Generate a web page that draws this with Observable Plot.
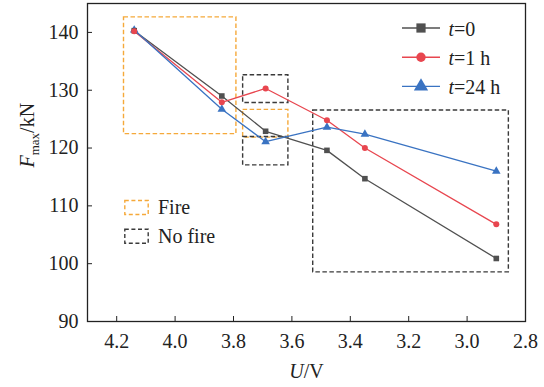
<!DOCTYPE html>
<html>
<head>
<meta charset="utf-8">
<script src="https://cdn.jsdelivr.net/npm/d3@7"></script>
<script src="https://cdn.jsdelivr.net/npm/@observablehq/plot@0.6"></script>
<style>
  body { margin: 0; background: #fff; }
  #chart { width: 544px; height: 387px; }
  #chart svg text { font-family: "Liberation Serif", "Times New Roman", serif; }
</style>
</head>
<body>
<div id="chart"></div>
<script>
// Cell voltage U (V) at each test, and maximum force F_max (kN) after resting time t
const voltage = [4.14, 3.84, 3.69, 3.48, 3.35, 2.90];
const forceT0 = [140.3, 129.0, 122.9, 119.6, 114.7, 100.9];
const forceT1h = [140.2, 127.9, 130.3, 124.8, 120.0, 106.8];
const forceT24h = [140.4, 126.7, 121.1, 123.6, 122.4, 116.0];

const seriesNames = ["t=0", "t=1 h", "t=24 h"];
const seriesColors = ["#505050", "#e8464f", "#3a73c2"];
const seriesSymbols = ["square", "circle", "triangle"];
const seriesRadius = [5.2, 4.7, 5.3];

// Dashed regions: fire / no fire outcome groups
const regionKind = ["Fire", "No fire", "Fire", "No fire", "No fire"];
const regionU1 = [4.175, 3.767, 3.767, 3.767, 3.527];
const regionU2 = [3.790, 3.612, 3.612, 3.612, 2.857];
const regionF1 = [122.4, 127.8, 121.8, 117.0, 98.5];
const regionF2 = [142.6, 132.6, 126.6, 121.9, 126.5];
const regionNames = ["Fire", "No fire"];
const regionColors = ["#f5a93a", "#3a3a3a"];

const xTicks = [4.2, 4.0, 3.8, 3.6, 3.4, 3.2, 3.0, 2.8];
const yTicks = [90, 100, 110, 120, 130, 140];

const seriesValues = [forceT0, forceT1h, forceT24h];
const rows = seriesNames.flatMap((name, i) =>
  voltage.map((u, j) => ({u, f: seriesValues[i][j], series: name}))
);
const regions = regionKind.map((kind, i) => ({
  kind, u1: regionU1[i], u2: regionU2[i], f1: regionF1[i], f2: regionF2[i]
}));

const FONT = '"Liberation Serif", "Times New Roman", serif';
const dash = "4.5,2.5";

// Short horizontal stroke used as the legend line swatch
const swatchLine = {draw(ctx) { ctx.moveTo(-19, 0); ctx.lineTo(19, 0); }};
// Small rectangle used as the legend swatch of a dashed region
const swatchBox = {draw(ctx) { ctx.rect(-11.7, -7, 23.4, 14); }};

const legendMarks = seriesNames.flatMap((name, i) => {
  const dy = 24.5 + 29.2 * i;
  return [
    Plot.dot([name], {frameAnchor: "top-left", dx: 333.5, dy, symbol: swatchLine,
      stroke: seriesColors[i], strokeWidth: 1.4, fill: "none", r: 1}),
    Plot.dot([name], {frameAnchor: "top-left", dx: 333.5, dy, symbol: seriesSymbols[i],
      fill: seriesColors[i], r: seriesRadius[i]}),
    Plot.text([name], {frameAnchor: "top-left", dx: 361, dy: dy + 1.5, text: d => d,
      textAnchor: "start", lineAnchor: "middle", fontSize: 20, fontFamily: FONT, fill: "#222"})
  ];
});

const regionLegendMarks = regionNames.flatMap((name, i) => {
  const dy = 204 + 28.7 * i;
  return [
    Plot.dot([name], {frameAnchor: "top-left", dx: 49, dy, symbol: swatchBox,
      stroke: regionColors[i], strokeWidth: 1.4, strokeDasharray: "4,2.6", fill: "none", r: 1}),
    Plot.text([name], {frameAnchor: "top-left", dx: 70.5, dy: dy + 0.5, text: d => d,
      textAnchor: "start", lineAnchor: "middle", fontSize: 20, fontFamily: FONT, fill: "#222"})
  ];
});

const chart = Plot.plot({
  width: 544,
  height: 387,
  marginLeft: 87,
  marginRight: 19,
  marginTop: 3,
  marginBottom: 66,
  style: {fontFamily: FONT, fontSize: "20px", color: "#222", background: "#fff"},
  x: {domain: [4.3, 2.8]},
  y: {domain: [90, 145]},
  color: {domain: seriesNames, range: seriesColors},
  symbol: {domain: seriesNames, range: seriesSymbols},
  marks: [
    Plot.rect(regions, {x1: "u1", x2: "u2", y1: "f1", y2: "f2", fill: "none",
      stroke: d => regionColors[regionNames.indexOf(d.kind)], strokeWidth: 1.4,
      strokeDasharray: dash}),
    Plot.line(rows, {x: "u", y: "f", z: "series", stroke: "series", strokeWidth: 1.3}),
    Plot.dot(rows, {x: "u", y: "f", fill: "series", symbol: "series",
      r: d => seriesRadius[seriesNames.indexOf(d.series)]}),
    Plot.frame({stroke: "#222", strokeWidth: 1.3}),
    Plot.axisX({ticks: xTicks, tickSize: -5, tickPadding: 17, tickFormat: d3.format(".1f"),
      label: null, fontSize: 20, fontFamily: FONT, stroke: "#222"}),
    Plot.axisY({ticks: yTicks, tickSize: -5, tickPadding: 14, label: null,
      fontSize: 20, fontFamily: FONT, stroke: "#222"}),
    Plot.text(["U/V"], {frameAnchor: "bottom", dy: 50, text: d => d,
      lineAnchor: "middle", fontSize: 20, fontFamily: FONT, fill: "#222"}),
    Plot.text(["F_max/kN"], {frameAnchor: "left", dx: -60, dy: 5, rotate: -90, text: d => d,
      lineAnchor: "middle", fontSize: 20, fontFamily: FONT, fill: "#222"}),
    ...regionLegendMarks,
    ...legendMarks
  ]
});

// Typeset quantity symbols: italic variables and the "max" subscript
const rich = {
  "t=0": [["t", "italic"], ["=0"]],
  "t=1 h": [["t", "italic"], ["=1 h"]],
  "t=24 h": [["t", "italic"], ["=24 h"]],
  "U/V": [["U", "italic"], ["/V"]],
  "F_max/kN": [["F", "italic"], ["max", "sub"], ["/kN", "after-sub"]]
};
d3.select(chart).selectAll("text").each(function() {
  const parts = rich[this.textContent];
  if (!parts) return;
  const el = d3.select(this);
  el.text(null);
  for (const [s, kind] of parts) {
    const t = el.append("tspan").text(s);
    if (kind === "italic") t.attr("font-style", "italic");
    if (kind === "sub") t.attr("font-size", 13).attr("dy", 5);
    if (kind === "after-sub") t.attr("dy", -5);
  }
});

document.getElementById("chart").append(chart);
</script>
</body>
</html>
